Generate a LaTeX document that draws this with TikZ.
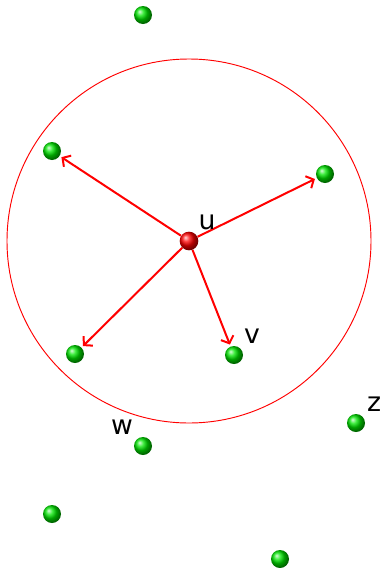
\documentclass[tikz,border=0pt]{standalone}
\usepackage{fontspec}
\setmainfont{DejaVu Sans}
\usetikzlibrary{arrows.meta}
\tikzset{
  gball/.style={circle,inner sep=0pt,minimum size=13.5pt,ball color=green!90!black},
  rball/.style={circle,inner sep=0pt,minimum size=14pt,ball color=red},
  lbl/.style={font=\fontsize{20}{20}\selectfont,inner sep=0pt},
  arr/.style={draw=red,line width=1.5pt,-{Straight Barb[length=4.5pt,width=10pt,line width=1.5pt]},shorten >=1.5pt}
}
\begin{document}
\begin{tikzpicture}[x=0.75pt,y=-0.75pt]
\useasboundingbox (0,0) rectangle (383,568);
\draw[red,line width=0.7pt] (189,241) circle (182);
\node[gball] (t) at (143,15) {};
\node[gball] (a) at (52,151) {};
\node[gball] (b) at (325,174) {};
\node[gball] (c) at (75,354) {};
\node[gball] (v) at (234,355) {};
\node[gball] (w) at (143,446) {};
\node[gball] (z) at (356,423) {};
\node[gball] (e) at (52,514) {};
\node[gball] (f) at (280,559) {};
\node[rball] (u) at (189,241) {};
\draw[arr] (u) -- (a);
\draw[arr] (u) -- (b);
\draw[arr] (u) -- (c);
\draw[arr] (u) -- (v);
\node[lbl] (lu) at (207,222) {u};
\node[lbl] (lv) at (252,336) {v};
\node[lbl] (lw) at (122,427) {w};
\node[lbl] (lz) at (374,404) {z};
\end{tikzpicture}
\end{document}
